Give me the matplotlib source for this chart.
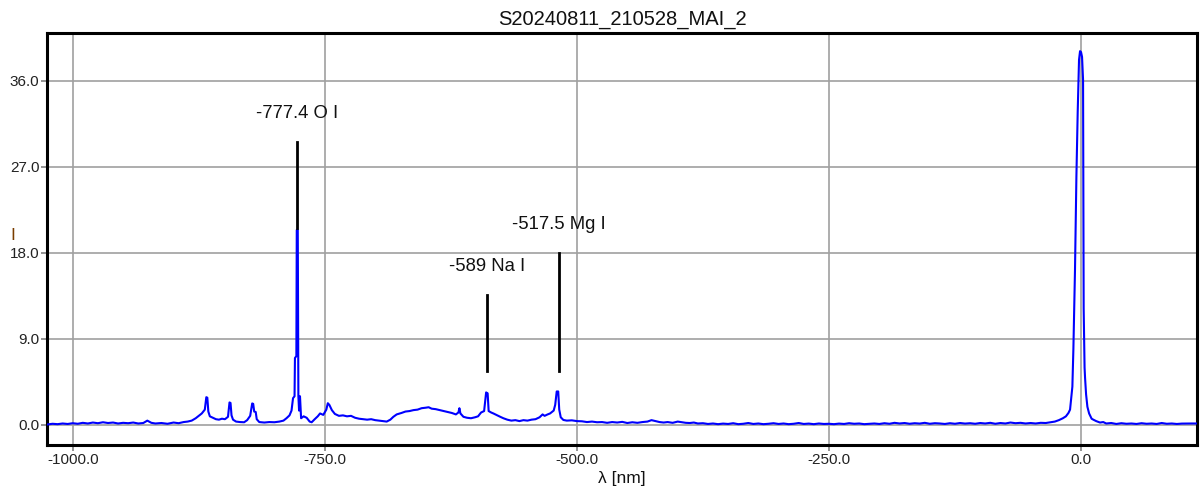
import matplotlib
matplotlib.use("Agg")
import matplotlib.pyplot as plt

# ---- data ----
wavelength = [
    -1025, -1020, -1015, -1010, -1005, -1000, -995, -990, -985, -980, -975, -970, -965, -960,
    -955, -950, -945, -940, -935, -930, -926, -922, -918, -912, -906, -900, -895, -890,
    -886, -882, -878, -875, -872, -869, -867.5, -866.5, -865.5, -864, -861, -858, -855, -852,
    -849, -846, -844.5, -843.5, -842.5, -841, -838, -834, -830, -827, -824, -822, -821, -820,
    -818.5, -817.5, -815, -810, -805, -800, -795, -791, -788, -785, -783, -781.5, -780, -779.6,
    -778.2, -777.8, -776.8, -776.2, -775.5, -774.6, -773.5, -771, -768, -765, -763, -760, -757,
    -754.7, -751.5, -748.5, -747, -745.5, -743, -740, -736, -732, -728, -724, -720, -716, -712,
    -708, -704, -700, -696, -692, -688.6, -685, -682, -678.7, -674, -670, -666, -662, -658, -654,
    -650, -647, -644, -640, -636, -632, -628, -624, -620, -617.5, -616.5, -615.5, -612.5, -609,
    -605, -601, -598, -595, -592, -590, -588.5, -587.5, -585, -582.8, -579, -576, -572.9, -569,
    -565, -561, -557, -553, -549, -545, -541, -537, -534, -532, -529, -526.6, -523, -521.5, -520,
    -518.5, -517.5, -516, -513.4, -510, -505, -500, -495, -490, -485, -480, -475, -470, -465,
    -460, -455, -450, -445, -440, -435, -430, -426, -422, -418, -414, -410, -405, -400, -396,
    -392, -388, -384, -380, -375, -370, -365, -360, -355, -350, -345, -340, -335, -330, -325,
    -320, -315, -310, -305, -300, -295, -290, -285, -280, -275, -270, -265, -260, -255, -250,
    -245, -240, -235, -230, -225, -220, -215, -210, -205, -200, -195, -190, -185, -180, -175,
    -170, -165, -160, -155, -150, -145, -140, -135, -130, -125, -120, -115, -110, -105, -100,
    -95, -90, -85, -80, -75, -70, -65, -60, -55, -50, -45, -40, -35, -30, -26, -22, -18, -15,
    -12.5, -10.9, -9.5, -8.6, -7.6, -6.0, -4.6, -3.3, -2.0, -1.0, 0.0, 1.0, 2.0, 2.3, 2.6, 3.5,
    4.0, 5.0, 6.3, 8.0, 10.5, 12.2, 15, 18.8, 22, 25, 30, 35, 40, 45, 50, 55, 60, 65, 70, 75,
    80, 85, 90, 95, 100, 105, 110, 115,
]
intensity = [
    0.05, 0.12, 0.08, 0.15, 0.10, 0.18, 0.12, 0.22, 0.15, 0.25, 0.18, 0.28, 0.20, 0.25,
    0.15, 0.22, 0.18, 0.25, 0.15, 0.20, 0.45, 0.22, 0.15, 0.20, 0.12, 0.25, 0.18, 0.30,
    0.35, 0.45, 0.70, 0.95, 1.20, 1.60, 2.90, 2.85, 1.40, 0.90, 0.75, 0.60, 0.55, 0.65,
    0.60, 0.85, 2.35, 2.30, 1.00, 0.55, 0.35, 0.30, 0.28, 0.50, 0.95, 2.25, 2.20, 1.40,
    1.35, 0.60, 0.30, 0.25, 0.30, 0.28, 0.35, 0.45, 0.70, 1.00, 1.50, 2.80, 3.00, 7.00,
    7.20, 20.4, 20.4, 3.00, 1.50, 3.00, 0.70, 0.90, 0.75, 0.35, 0.28, 0.60, 0.90,
    1.20, 1.05, 1.60, 2.27, 2.10, 1.55, 1.15, 0.95, 1.00, 0.90, 0.95, 0.75, 0.65, 0.60,
    0.55, 0.60, 0.50, 0.45, 0.40, 0.35, 0.55, 0.85, 1.10, 1.25, 1.40, 1.45, 1.55, 1.60, 1.75,
    1.80, 1.85, 1.70, 1.65, 1.55, 1.45, 1.35, 1.25, 1.10, 1.30, 1.75, 1.20, 0.85, 0.75,
    0.70, 0.80, 0.90, 1.30, 1.45, 3.40, 3.30, 1.45, 1.30, 1.20, 1.00, 0.85, 0.70, 0.55,
    0.45, 0.50, 0.40, 0.50, 0.45, 0.55, 0.60, 0.80, 1.10, 0.95, 1.10, 1.20, 1.50, 2.10, 3.50,
    3.50, 1.60, 0.80, 0.52, 0.45, 0.48, 0.40, 0.38, 0.30, 0.35, 0.28, 0.30, 0.22, 0.30,
    0.25, 0.32, 0.20, 0.28, 0.22, 0.30, 0.35, 0.50, 0.40, 0.30, 0.25, 0.30, 0.22, 0.35, 0.28,
    0.22, 0.20, 0.25, 0.15, 0.18, 0.10, 0.15, 0.08, 0.14, 0.10, 0.18, 0.08, 0.12, 0.20, 0.10,
    0.15, 0.08, 0.12, 0.18, 0.10, 0.15, 0.08, 0.12, 0.20, 0.10, 0.14, 0.08, 0.15, 0.10, 0.12,
    0.08, 0.14, 0.10, 0.18, 0.12, 0.15, 0.08, 0.12, 0.15, 0.10, 0.18, 0.12, 0.22, 0.15, 0.20,
    0.12, 0.18, 0.14, 0.22, 0.12, 0.18, 0.15, 0.10, 0.18, 0.12, 0.20, 0.14, 0.18, 0.12, 0.20,
    0.15, 0.22, 0.12, 0.20, 0.15, 0.25, 0.18, 0.22, 0.15, 0.20, 0.15, 0.22, 0.20, 0.28, 0.35,
    0.50, 0.70, 0.90, 1.25, 1.60, 3.00, 4.00, 7.90, 16.2, 26.0, 32.8, 38.2, 39.1, 39.0, 38.5,
    36.1, 25.6, 12.2, 6.00, 4.90, 3.20, 1.90, 1.20, 0.65, 0.55, 0.40, 0.25, 0.30, 0.15, 0.20,
    0.10, 0.18, 0.12, 0.15, 0.10, 0.18, 0.12, 0.15, 0.10, 0.20, 0.12, 0.15, 0.10, 0.14, 0.15,
    0.15, 0.15,
]

line_labels = ["-777.4 O I", "-589 Na I", "-517.5 Mg I"]
line_pos = [-777.4, -589.0, -517.5]
line_bottom = [20.6, 5.65, 5.65]
line_top = [29.6, 13.6, 18.0]

x_ticks = [-1000, -750, -500, -250, 0]
y_ticks = [0, 9, 18, 27, 36]
title = "S20240811_210528_MAI_2"

# ---- figure ----
plt.rcParams["font.family"] = ["Liberation Sans", "DejaVu Sans"]
fig = plt.figure(figsize=(12.02, 4.91), dpi=100)
ax = fig.add_axes([47 / 1202, 1 - 445 / 491, 1150 / 1202, 412 / 491])

ax.plot(wavelength, intensity, color="#0000ff", lw=1.5, zorder=3)

for lab, xp, yb, yt in zip(line_labels, line_pos, line_bottom, line_top):
    ax.plot([xp, xp], [yb, yt], color="black", lw=2.0, zorder=4)
    ax.annotate(lab, xy=(xp, yt), xytext=(0, 17.5), textcoords="offset points",
                ha="center", va="baseline", fontsize=13.3, color="#111111")

ax.set_xlim(-1025.5, 115)
ax.set_ylim(-2.1, 41.0)
ax.set_xticks(x_ticks)
ax.set_yticks(y_ticks)
ax.set_xticklabels([f"{v:.1f}" for v in x_ticks])
ax.set_yticklabels([f"{v:.1f}" for v in y_ticks])
ax.grid(True, color="#a0a0a0", lw=1.2, zorder=0)
ax.set_axisbelow(True)
ax.tick_params(axis="both", length=4, width=1.2, color="#808080",
               labelsize=11, labelcolor="#222222", pad=1.5)
for s in ax.spines.values():
    s.set_linewidth(2.2)
    s.set_color("black")

ax.set_title(title, fontsize=14.5, color="#111111", pad=6)
ax.set_xlabel("λ [nm]", fontsize=12.5, color="#111111", labelpad=3.5)
ax.set_ylabel("I", fontsize=12.5, color="#7a3d00", rotation=0)
ax.yaxis.set_label_coords(-34 / 1150, 0.49)

fig.savefig("out.png", dpi=100, facecolor="white")
